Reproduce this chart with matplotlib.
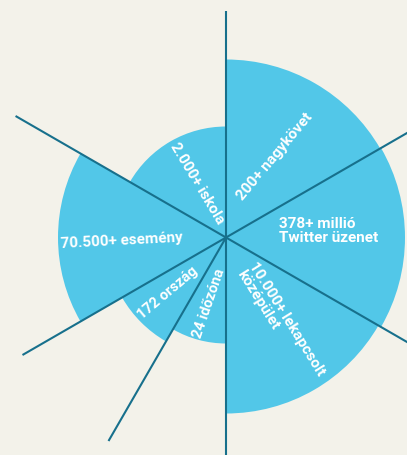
import numpy as np
import matplotlib
matplotlib.use("Agg")
import matplotlib.pyplot as plt
from matplotlib.patches import Wedge

# sectors: label, start angle, end angle (deg, counter-clockwise from east), radius (px)
labels = ["200+ nagykövet", "378+ millió\nTwitter üzenet", "10.000+ lekapcsolt\nközépület",
          "24 időzóna", "172 ország", "70.500+ esemény", "2.000+ iskola"]
theta_start = [30, -30, -90, 240, 210, 150, 90]
theta_end = [90, 30, -30, 270, 240, 210, 150]
radius = [178, 179, 176, 106, 120, 168, 111]

# radial divider lines: angle, length
line_angles = [90, 270, 30, 210, -30, 150, 240]
line_lengths = [227, 245, 215, 235, 215, 243, 235]

BG = "#f3f2ea"
FILL = "#52c7e8"
LINE = "#17708c"

W, H = 407, 455
cx, cy = 226, 237.5
fig = plt.figure(figsize=(W / 100, H / 100), dpi=100, facecolor=BG)
ax = fig.add_axes([0, 0, 1, 1])
ax.set_xlim(-cx, W - cx)
ax.set_ylim(-(H - cy), cy)
ax.axis("off")
ax.set_facecolor(BG)

for t0, t1, r in zip(theta_start, theta_end, radius):
    ax.add_patch(Wedge((0, 0), r, t0, t1, facecolor=FILL, edgecolor="none"))

for a, L in zip(line_angles, line_lengths):
    rad = np.deg2rad(a)
    ax.plot([0, L * np.cos(rad)], [0, L * np.sin(rad)], color=LINE, lw=1.5,
            solid_capstyle="butt")

# label placement (pixel coords in image space) and rotation
label_pos = [(275, 157), (329, 231), (281, 323), (209, 303), (168, 293), (122, 241), (197, 184)]
label_rot = [50, 0, -58, 71, 40, 3, -59]
label_size = [11, 11, 11, 10.5, 10.5, 11, 11]
font = dict(family=["Roboto", "DejaVu Sans"], weight="bold", color="white")
for lab, (px, py), rot, fs in zip(labels, label_pos, label_rot, label_size):
    ax.text(px - cx, cy - py, lab, rotation=rot, rotation_mode="anchor", fontsize=fs,
            ha="center", va="center", multialignment="left", linespacing=1.0, **font)

fig.savefig("out.png", dpi=100, facecolor=BG)
